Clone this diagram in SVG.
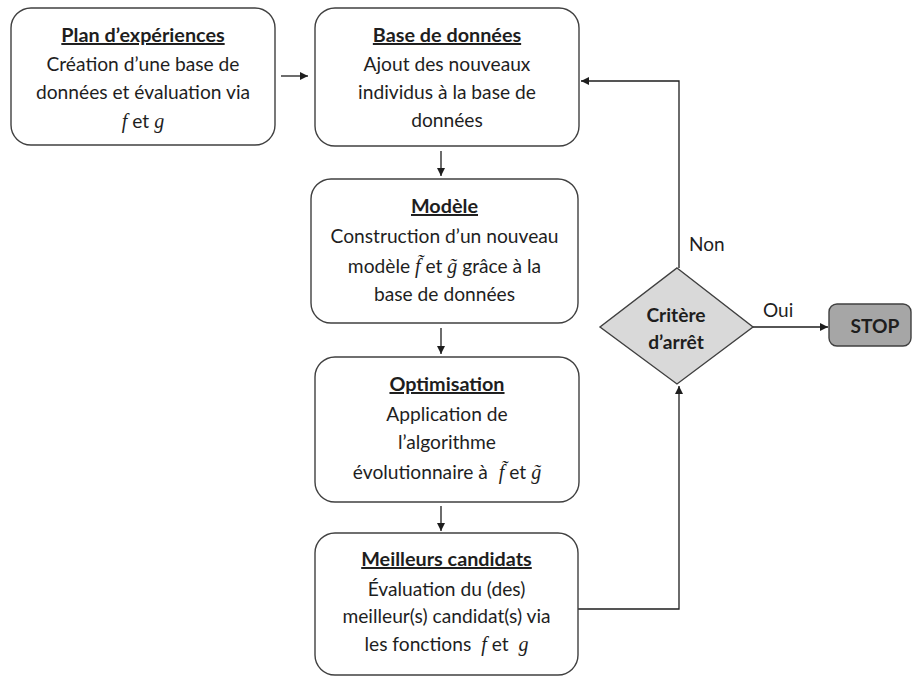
<svg xmlns="http://www.w3.org/2000/svg" width="912" height="677" viewBox="0 0 912 677">
  <style>
    .box { fill: #ffffff; stroke: #404040; stroke-width: 1.4; }
    .txt { font-family: Lato, "Open Sans", sans-serif; font-size: 19.2px; fill: #1e1e1e; text-anchor: middle; }
    .ttl { font-weight: bold; text-decoration: underline; font-size: 19.8px; }
    .m { font-family: "Liberation Serif", "DejaVu Serif", serif; font-style: italic; font-size: 20px; }
    .edge { fill: none; stroke: #1e1e1e; stroke-width: 1.3; }
    .lbl { font-family: Lato, "Open Sans", sans-serif; font-size: 19px; fill: #1e1e1e; }
  </style>
  <defs>
    <marker id="arrow" viewBox="0 0 10 10" refX="10" refY="5" markerWidth="8" markerHeight="8" markerUnits="userSpaceOnUse" orient="auto">
      <path d="M0,0 L10,5 L0,10 z" fill="#1e1e1e"/>
    </marker>
  </defs>
  <rect width="912" height="677" fill="#ffffff"/>

  <g id="connectors">
    <line class="edge" x1="281" y1="76" x2="308" y2="76" marker-end="url(#arrow)"/>
    <line class="edge" x1="441" y1="151" x2="441" y2="176" marker-end="url(#arrow)"/>
    <line class="edge" x1="441" y1="328" x2="441" y2="354" marker-end="url(#arrow)"/>
    <line class="edge" x1="441" y1="506" x2="441" y2="531" marker-end="url(#arrow)"/>
    <polyline class="edge" points="578,609 679,609 679,386" marker-end="url(#arrow)"/>
    <polyline class="edge" points="679,268 679,81 581,81" marker-end="url(#arrow)"/>
    <line class="edge" x1="753" y1="327" x2="828" y2="327" marker-end="url(#arrow)"/>
    <text class="lbl" x="689" y="251">Non</text>
    <text class="lbl" x="763" y="317">Oui</text>
  </g>

  <g id="plan">
    <rect class="box" x="11" y="8" width="264" height="137" rx="20"/>
    <text class="txt" x="143" y="42"><tspan class="ttl">Plan d’expériences</tspan></text>
    <text class="txt" x="143" y="71">Création d’une base de</text>
    <text class="txt" x="143" y="99">données et évaluation via</text>
    <text class="txt" x="143" y="128"><tspan class="m">f</tspan> et <tspan class="m">g</tspan></text>
  </g>

  <g id="base">
    <rect class="box" x="315" y="8" width="264" height="138" rx="20"/>
    <text class="txt" x="447" y="42"><tspan class="ttl">Base de données</tspan></text>
    <text class="txt" x="447" y="71">Ajout des nouveaux</text>
    <text class="txt" x="447" y="99">individus à la base de</text>
    <text class="txt" x="447" y="127">données</text>
  </g>

  <g id="modele">
    <rect class="box" x="311" y="179" width="267" height="144" rx="20"/>
    <text class="txt" x="444.5" y="213"><tspan class="ttl">Modèle</tspan></text>
    <text class="txt" x="444.5" y="243">Construction d’un nouveau</text>
    <text class="txt" x="444.5" y="273">modèle <tspan class="m">f̃</tspan> et <tspan class="m">g̃</tspan> grâce à la</text>
    <text class="txt" x="444.5" y="301">base de données</text>
  </g>

  <g id="optimisation">
    <rect class="box" x="315" y="357" width="264" height="145" rx="20"/>
    <text class="txt" x="447" y="391"><tspan class="ttl">Optimisation</tspan></text>
    <text class="txt" x="447" y="421">Application de</text>
    <text class="txt" x="447" y="449">l’algorithme</text>
    <text class="txt" x="447" y="479">évolutionnaire à <tspan class="m" dx="6">f̃</tspan> et <tspan class="m">g̃</tspan></text>
  </g>

  <g id="candidats">
    <rect class="box" x="315" y="533" width="263" height="142" rx="20"/>
    <text class="txt" x="446.5" y="566"><tspan class="ttl">Meilleurs candidats</tspan></text>
    <text class="txt" x="446.5" y="596">Évaluation du (des)</text>
    <text class="txt" x="446.5" y="623">meilleur(s) candidat(s) via</text>
    <text class="txt" x="446.5" y="651">les fonctions <tspan class="m" dx="5">f</tspan> et <tspan class="m" dx="5">g</tspan></text>
  </g>

  <g id="critere">
    <polygon points="677,268 753,327 677,384 600,327" fill="#d9d9d9" stroke="#404040" stroke-width="1.4"/>
    <text class="txt" x="676" y="322" font-weight="bold">Critère</text>
    <text class="txt" x="676" y="349" font-weight="bold">d’arrêt</text>
  </g>

  <g id="stop">
    <rect x="829" y="304" width="82" height="42" rx="8" fill="#a6a6a6" stroke="#404040" stroke-width="1.4"/>
    <text class="txt" x="875" y="333" font-weight="bold">STOP</text>
  </g>
</svg>
